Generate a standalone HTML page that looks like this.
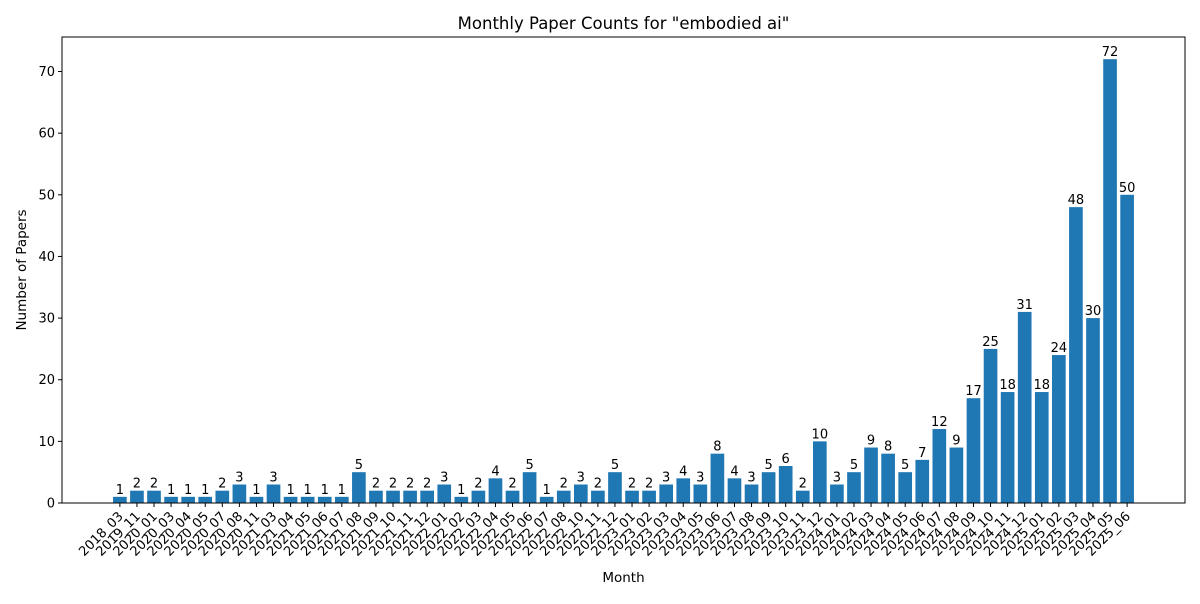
<!DOCTYPE html>
<html><head><meta charset="utf-8"><style>
body{margin:0;background:#fff;font-family:"DejaVu Sans","Liberation Sans",sans-serif;}
svg text{font-family:"DejaVu Sans","Liberation Sans",sans-serif;}
</style></head><body>
<svg id="chart" width="1200" height="600" xmlns="http://www.w3.org/2000/svg">
<text x="623.5" y="29" font-size="16.5" text-anchor="middle">Monthly Paper Counts for "embodied ai"</text>
<text x="623.5" y="582" font-size="13.5" text-anchor="middle">Month</text>
<text transform="translate(26,270) rotate(-90)" font-size="13.5" text-anchor="middle">Number of Papers</text>
<g id="bars"></g><g id="xt"></g><g id="yt"></g>
<rect x="62" y="37" width="1123" height="466" fill="none" stroke="#000" stroke-width="1"/>
</svg>
<script>
const categories=["2018_03","2019_11","2020_01","2020_03","2020_04","2020_05","2020_07","2020_08","2020_11","2021_03","2021_04","2021_05","2021_06","2021_07","2021_08","2021_09","2021_10","2021_11","2021_12","2022_01","2022_02","2022_03","2022_04","2022_05","2022_06","2022_07","2022_08","2022_10","2022_11","2022_12","2023_01","2023_02","2023_03","2023_04","2023_05","2023_06","2023_07","2023_08","2023_09","2023_10","2023_11","2023_12","2024_01","2024_02","2024_03","2024_04","2024_05","2024_06","2024_07","2024_08","2024_09","2024_10","2024_11","2024_12","2025_01","2025_02","2025_03","2025_04","2025_05","2025_06"];
const counts=[1,2,2,1,1,1,2,3,1,3,1,1,1,1,5,2,2,2,2,3,1,2,4,2,5,1,2,3,2,5,2,2,3,4,3,8,4,3,5,6,2,10,3,5,9,8,5,7,12,9,17,25,18,31,18,24,48,30,72,50];
const yTicks=[0,10,20,30,40,50,60,70];
const NS="http://www.w3.org/2000/svg";
const L=62,R=1185,T=37,B=503;
const n=categories.length;
const span=(n-1)+0.8, xmin=-0.4-0.05*span, xmax=n-1+0.4+0.05*span;
const ymax=Math.max(...counts)*1.05;
const X=v=>L+(v-xmin)/(xmax-xmin)*(R-L);
const Y=v=>B-v/ymax*(B-T);
function mk(tag,attrs,parent){const e=document.createElementNS(NS,tag);for(const k in attrs)e.setAttribute(k,attrs[k]);parent.appendChild(e);return e;}
const bars=document.getElementById('bars'),xt=document.getElementById('xt'),yt=document.getElementById('yt');
counts.forEach((v,i)=>{
  const x0=X(i-0.4),x1=X(i+0.4);
  const r=mk('rect',{x:x0,y:Y(v),width:x1-x0,height:B-Y(v),fill:'#1f77b4'},bars);
  
  
  const t=mk('text',{x:X(i),y:Y(v)-3,'font-size':13,'text-anchor':'middle'},bars);
  t.textContent=v;
  
  
  const tk=mk('line',{x1:X(i),x2:X(i),y1:B,y2:B+4,stroke:'#000'},xt);
  
  
  const lb=mk('text',{transform:`translate(${X(i)+4},${B+14}) rotate(-45)`,'font-size':13,'text-anchor':'end'},xt);
  lb.textContent=categories[i];
  
  
});
yTicks.forEach(v=>{
  const tk=mk('line',{x1:L-4,x2:L,y1:Y(v),y2:Y(v),stroke:'#000'},yt);
  
  
  const lb=mk('text',{x:L-7,y:Y(v)+4.5,'font-size':13,'text-anchor':'end'},yt);
  lb.textContent=v;
  
  
});
</script>
</body></html>
